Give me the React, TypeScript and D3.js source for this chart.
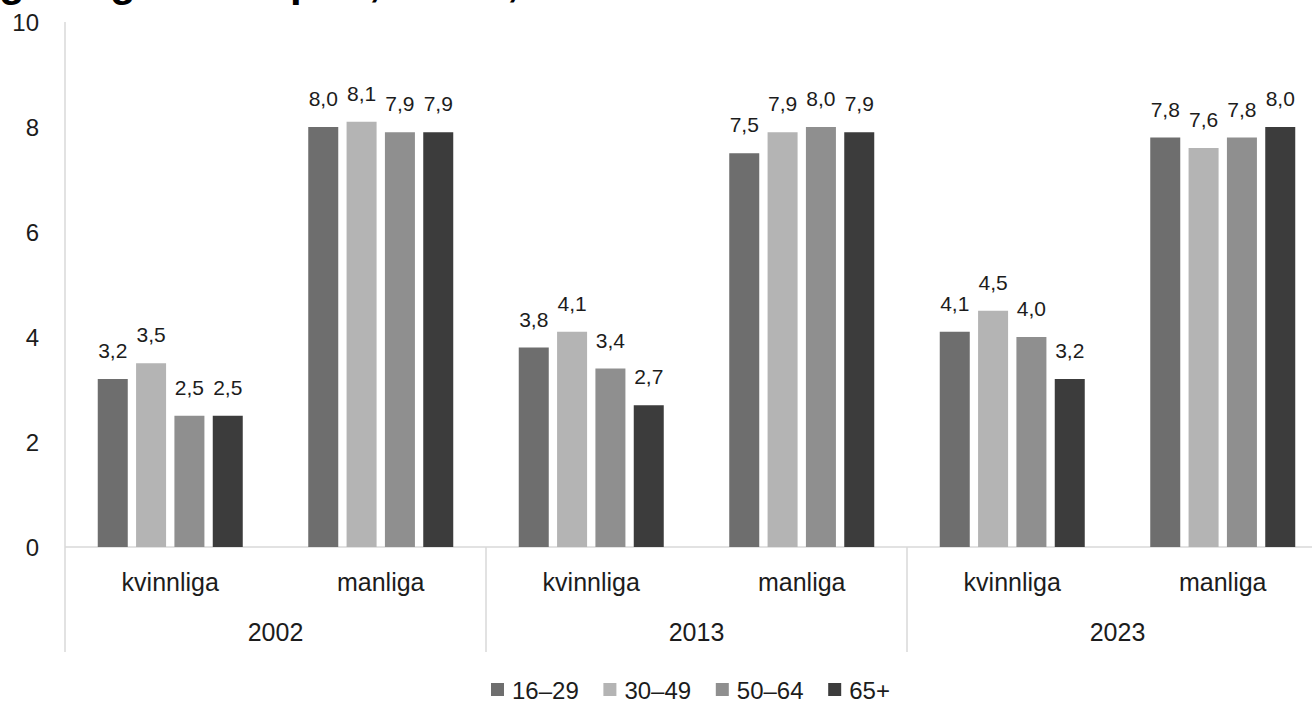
import React from "react";
import * as d3 from "d3";

const years = ["2002", "2013", "2023"];
const genders = ["kvinnliga", "manliga"];
const seriesNames = ["16–29", "30–49", "50–64", "65+"];
const seriesColors = ["#6e6e6e", "#b4b4b4", "#8f8f8f", "#3c3c3c"];
// values per series, in order: 2002 kv, 2002 ma, 2013 kv, 2013 ma, 2023 kv, 2023 ma
const v16_29 = [3.2, 8.0, 3.8, 7.5, 4.1, 7.8];
const v30_49 = [3.5, 8.1, 4.1, 7.9, 4.5, 7.6];
const v50_64 = [2.5, 7.9, 3.4, 8.0, 4.0, 7.8];
const v65 = [2.5, 7.9, 2.7, 7.9, 3.2, 8.0];
const yTicks = [0, 2, 4, 6, 8, 10];

const seriesValues = [v16_29, v30_49, v50_64, v65];
const categories = years.flatMap((y) => genders.map((g) => `${y}|${g}`));

const W = 1312;
const H = 702;
const left = 65;
const right = 1328;
const top = 22;
const bottom = 547;
const font = "'Liberation Sans', Arial, Helvetica, sans-serif";
const textColor = "#1c1c1c";
const gridColor = "#d9d9d9";

const fmt = (v: number) => v.toFixed(1).replace(".", ",");

export default function App() {
  const x0 = d3.scaleBand<string>().domain(categories).range([left, right]).paddingInner(0).paddingOuter(0);
  const xYear = d3.scaleBand<string>().domain(years).range([left, right]);
  const x1 = d3.scaleBand<string>().domain(seriesNames).range([-72.5, 72.5]).paddingInner(0.2174).paddingOuter(0);
  const y = d3.scaleLinear().domain([0, 10]).range([bottom, top]);

  const legendStart = 491;
  const legendStep = 112.4;

  return (
    <svg width={W} height={H} style={{ position: "absolute", left: 0, top: 0, display: "block", background: "#fff" }}>
      {/* clipped title, only descenders visible */}
      <text y={-4} fontFamily={font} fontWeight="bold" fontSize={42} fill="#000">
        <tspan x={-1}>g</tspan>
        <tspan x={110}>g</tspan>
        <tspan x={290}>p</tspan>
        <tspan x={369}>,</tspan>
        <tspan x={507}>,</tspan>
      </text>

      {/* y axis line */}
      <line x1={left} x2={left} y1={y(10)} y2={652} stroke={gridColor} strokeWidth={1.5} />
      {/* baseline */}
      <line x1={left} x2={right} y1={y(0)} y2={y(0)} stroke={gridColor} strokeWidth={1.5} />
      {/* year separators */}
      {years.slice(1).map((yr) => (
        <line key={yr} x1={xYear(yr)!} x2={xYear(yr)!} y1={y(0)} y2={652} stroke={gridColor} strokeWidth={1.5} />
      ))}

      {/* y tick labels */}
      {yTicks.map((t) => (
        <text key={t} x={39} y={y(t)} dy="0.36em" textAnchor="end" fontFamily={font} fontSize={24} fill={textColor}>
          {t}
        </text>
      ))}

      {/* bars */}
      {seriesNames.map((s, si) =>
        categories.map((c, ci) => {
          const v = seriesValues[si][ci];
          const cx = x0(c)! + x0.bandwidth() / 2;
          const bx = cx + x1(s)!;
          return (
            <g key={`${s}-${c}`}>
              <rect x={bx} y={y(v)} width={x1.bandwidth()} height={y(0) - y(v)} fill={seriesColors[si]} />
              <text
                x={bx + x1.bandwidth() / 2}
                y={y(v) - 21}
                textAnchor="middle"
                fontFamily={font}
                fontSize={21}
                fill={textColor}
              >
                {fmt(v)}
              </text>
            </g>
          );
        })
      )}

      {/* category labels */}
      {categories.map((c) => (
        <text
          key={c}
          x={x0(c)! + x0.bandwidth() / 2}
          y={591}
          textAnchor="middle"
          fontFamily={font}
          fontSize={25}
          fill={textColor}
        >
          {c.split("|")[1]}
        </text>
      ))}
      {/* year labels */}
      {years.map((yr) => (
        <text
          key={yr}
          x={xYear(yr)! + xYear.bandwidth() / 2}
          y={641}
          textAnchor="middle"
          fontFamily={font}
          fontSize={25}
          fill={textColor}
        >
          {yr}
        </text>
      ))}

      {/* legend */}
      {seriesNames.map((s, i) => (
        <g key={s} transform={`translate(${legendStart + i * legendStep},0)`}>
          <rect x={0} y={683} width={13} height={13} fill={seriesColors[i]} />
          <text x={21} y={699} fontFamily={font} fontSize={24} fill={textColor}>
            {s}
          </text>
        </g>
      ))}
    </svg>
  );
}
